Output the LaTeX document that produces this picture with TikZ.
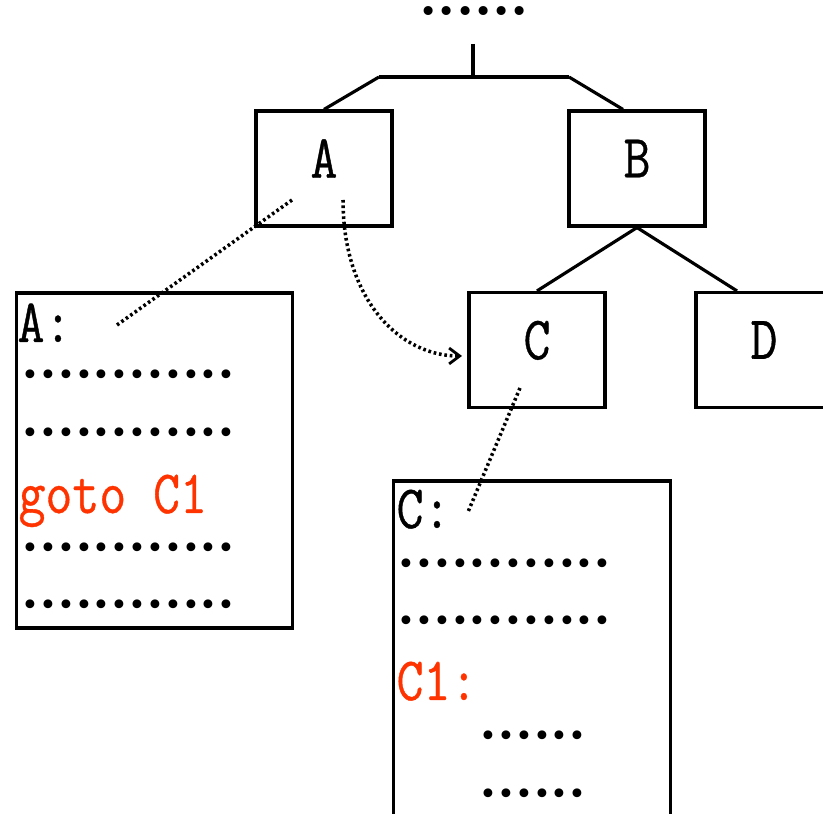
\documentclass[tikz,border=0pt]{standalone}
\usepackage{xcolor}
\usepackage{fontspec}
\usepackage{tikz}
\usetikzlibrary{arrows.meta}

\newfontfamily\codefont[FakeStretch=0.85,FakeBold=0.6]{Latin Modern Mono}
\newfontfamily\dotfont{DejaVu Sans}
\definecolor{gotored}{RGB}{255,51,0}
\newcommand{\dotrow}[1]{\dotfont\fontsize{17.2}{18}\selectfont\foreach \k in {1,...,#1}{\char"2022}}

\begin{document}
\begin{tikzpicture}[x=0.02cm,y=-0.02cm,line width=1.8pt,
  blk/.style={shape=rectangle,draw=black,minimum width=2.72cm,minimum height=2.3cm,
    text depth=0.4cm,font=\codefont\fontsize{35}{34}\selectfont},
  codebox/.style={shape=rectangle,draw=black,minimum width=5.53cm},
  codeline/.style={anchor=base west,inner sep=0pt,font=\codefont\fontsize{35}{34}\selectfont},
  dotline/.style={anchor=west,inner sep=0pt},
  dotlink/.style={line width=2pt,dash pattern=on 1.5pt off 1.6pt}]
\clip (0,0) rectangle (823,814);

\node[dotline] (top) at (418,15) {\dotfont\fontsize{17.6}{20}\selectfont\foreach \k in {1,...,6}{\char"2022}};
\coordinate (stem) at (473,44);
\coordinate (fork) at (473,77);
\coordinate (forkL) at (379,77);
\coordinate (forkR) at (569,77);

\node[blk] (A) at (324,168.5) {A};
\node[blk] (B) at (637,168.5) {B};
\node[blk] (C) at (537,350) {C};
\node[blk] (D) at (764,350) {D};

\path[-] (stem) edge (fork);
\path[-] (forkL) edge (forkR);
\path[-] (forkL) edge (A.north);
\path[-] (forkR) edge ([xshift=-0.28cm]B.north);
\path[-] (B.south) edge (C.north);
\path[-] (B.south) edge ([xshift=-0.54cm]D.north);

% code of A
\node[codebox,minimum height=6.7cm] (codeA) at (154.5,460.5) {};
\node[codeline] (labA) at (16,342) {A:};
\node[dotline] (a1) at (20,378) {\dotrow{12}};
\node[dotline] (a2) at (20,436) {\dotrow{12}};
\node[codeline,text=gotored] (jump) at (17,513) {goto C1};
\node[dotline] (a3) at (20,551) {\dotrow{12}};
\node[dotline] (a4) at (20,608) {\dotrow{12}};

% code of C
\node[codebox,minimum height=7.18cm] (codeC) at (532,660.5) {};
\node[codeline] (labC) at (395,528) {C:};
\node[dotline] (c1) at (396,567) {\dotrow{12}};
\node[dotline] (c2) at (396,624) {\dotrow{12}};
\node[codeline,text=gotored] (target) at (395,700) {C1:};
\node[dotline] (c3) at (478,739) {\dotrow{6}};
\node[dotline] (c4) at (478,797) {\dotrow{6}};

\coordinate (Aref) at (292,200);
\coordinate (Aend) at (117,325);
\coordinate (Ago) at (343,200);
\coordinate (Cin) at (462,356);
\coordinate (Cref) at (520,388);
\coordinate (Cend) at (468,512);

\draw[dotlink] (Aref) -- (Aend);
\draw[dotlink] (Cref) -- (Cend);
\draw[dotlink,-{Straight Barb[length=6pt,width=9pt,line width=1.6pt]}] (Ago) .. controls (343,300) and (400,356) .. (Cin);

\end{tikzpicture}
\end{document}
